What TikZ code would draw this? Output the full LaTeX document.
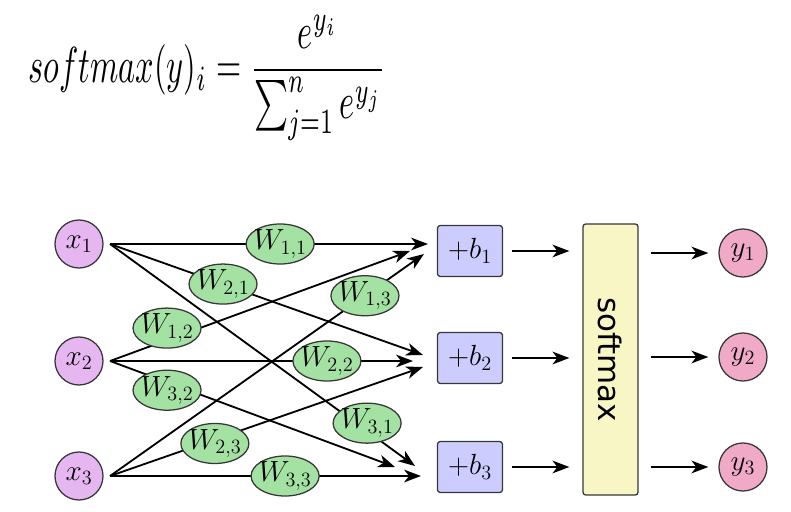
\documentclass[tikz,border=0pt]{standalone}
\usepackage{amsmath}
\usepackage{graphicx}
\usepackage{fontspec}
\newfontfamily\smfont{DejaVu Sans}
\usetikzlibrary{arrows.meta, positioning, shapes.geometric, calc}
\definecolor{bordergray}{RGB}{55,55,55}
\definecolor{infill}{RGB}{230,182,240}
\definecolor{wfill}{RGB}{163,226,163}
\definecolor{bfill}{RGB}{204,204,255}
\definecolor{smfill}{RGB}{248,246,196}
\definecolor{outfill}{RGB}{240,170,200}

\begin{document}
\begin{tikzpicture}[x=0.025cm, y=-0.025cm,
  every node/.style={font=\fontsize{22pt}{26pt}\selectfont},
  input/.style={circle, draw=bordergray, line width=0.9pt, fill=infill, minimum size=1.2cm, inner sep=0pt},
  output/.style={circle, draw=bordergray, line width=0.9pt, fill=outfill, minimum size=1.2cm, inner sep=0pt},
  weight/.style={ellipse, draw=bordergray, line width=0.9pt, fill=wfill, minimum width=1.7cm, minimum height=1cm, inner xsep=-2pt, inner ysep=0pt},
  bias/.style={rectangle, rounded corners=2pt, draw=bordergray, line width=0.9pt, fill=bfill, minimum width=1.625cm, minimum height=1.275cm, inner sep=0pt},
  smbox/.style={rectangle, rounded corners=2pt, draw=bordergray, line width=0.9pt, fill=smfill, minimum width=1.375cm, minimum height=6.775cm, font=\smfont\fontsize{22pt}{26pt}\selectfont},
  arr/.style={line width=1.3pt, -{Stealth[length=12pt, width=9pt, inset=3.5pt]}}]

\useasboundingbox (0,0) rectangle (791,512);

% Formula
\node[anchor=base west, inner sep=0pt, font=\normalsize] (formula) at (28,83)
  {\scalebox{2.3}[3.6]{$\displaystyle softmax(y)_i = \frac{e^{y_i}}{\sum_{j=1}^n e^{y_j}}$}};

% Inputs
\foreach \j/\y in {1/244, 2/361, 3/476}
{
    \node[input] (x\j) at (79,\y) {$x_\j$};
    \coordinate (s\j) at ([xshift=0.16cm]x\j.east);
}

% Biases
\foreach \i/\y in {1/251, 2/358, 3/467}
{
    \node[bias] (b\i) at (470,\y) {$+b_\i$};
}

% Arrow ends in front of the biases
\coordinate (e11) at (428,244);
\coordinate (e12) at (410,251);
\coordinate (e13) at (424,254);
\coordinate (e21) at (423,355);
\coordinate (e22) at (413,361);
\coordinate (e23) at (423,367);
\coordinate (e31) at (415,466);
\coordinate (e32) at (395,467);
\coordinate (e33) at (421,476);

% Weights
\foreach \i/\j/\p/\s in {1/1/0.535/0, 2/1/0.361/0, 3/1/0.843/0.2, 1/2/0.19/0.3, 2/2/0.716/0,
                         3/2/0.2/-0.2, 1/3/0.812/0, 2/3/0.335/-0.1, 3/3/0.563/0}
{
    \draw[arr] (s\j) -- node[weight, pos=\p, yshift=\s cm] (w\i\j) {$W_{\i,\j}$} (e\i\j);
}

% Softmax
\node[smbox] (sm) at (610.5,359.5) {\rotatebox{-90}{softmax}};

% Outputs
\foreach \i/\y in {1/253, 2/357, 3/467}
{
    \node[output] (y\i) at (743,\y) {$y_\i$};
    \draw[arr] ([xshift=0.225cm]b\i.east) -- ([xshift=-0.325cm]b\i.east -| sm.west);
    \draw[arr] ([xshift=0.3cm]y\i.west -| sm.east) -- ([xshift=-0.25cm]y\i.west);
}

\end{tikzpicture}
\end{document}
